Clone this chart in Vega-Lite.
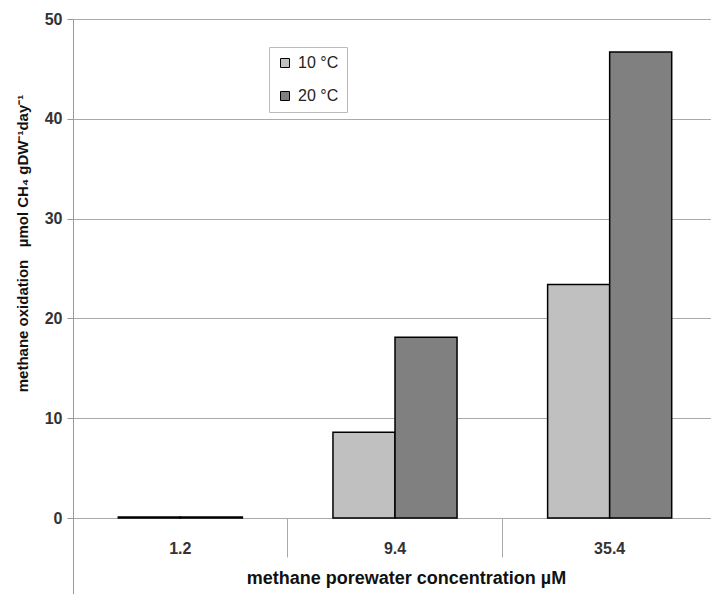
{
  "$schema": "https://vega.github.io/schema/vega-lite/v6.json",
  "autosize": "none",
  "padding": {"left": 73, "top": 19, "right": 0, "bottom": 0},
  "width": 638,
  "height": 575,
  "background": "white",
  "config": {
    "view": {"stroke": null},
    "font": "Liberation Sans"
  },
  "data": {
    "values": [
      {"conc": "1.2", "temp": "10 °C", "rate": 0.1},
      {"conc": "1.2", "temp": "20 °C", "rate": 0.1},
      {"conc": "9.4", "temp": "10 °C", "rate": 8.6},
      {"conc": "9.4", "temp": "20 °C", "rate": 18.1},
      {"conc": "35.4", "temp": "10 °C", "rate": 23.4},
      {"conc": "35.4", "temp": "20 °C", "rate": 46.7}
    ]
  },
  "mark": {"type": "bar", "stroke": "black", "strokeWidth": 1.5},
  "encoding": {
    "x": {
      "field": "conc",
      "type": "nominal",
      "sort": null,
      "scale": {"range": [0, 644], "paddingInner": 0, "paddingOuter": 0},
      "axis": {
        "title": "methane porewater concentration µM",
        "titleFont": "Liberation Sans",
        "titleFontWeight": "bold",
        "titleFontSize": 18,
        "titleColor": "#111",
        "titleX": 333,
        "titleY": 60,
        "titleBaseline": "middle",
        "offset": -76,
        "domain": false,
        "grid": false,
        "bandPosition": 0,
        "ticks": true,
        "tickColor": "#aaa",
        "tickSize": 39,
        "labelAngle": 0,
        "labelAlign": "center",
        "labelFont": "Liberation Sans",
        "labelFontWeight": "bold",
        "labelFontSize": 16,
        "labelColor": "#333",
        "labelPadding": -17
      }
    },
    "xOffset": {
      "field": "temp",
      "type": "nominal",
      "scale": {"paddingOuter": 0.73, "paddingInner": 0}
    },
    "y": {
      "field": "rate",
      "type": "quantitative",
      "scale": {"domain": [-7.615, 50], "nice": false, "zero": false},
      "axis": {
        "title": "methane oxidation\u00a0\u00a0\u00a0µmol CH₄ gDW⁻¹day⁻¹",
        "titleFont": "Liberation Sans",
        "titleFontWeight": "bold",
        "titleFontSize": 15,
        "titleColor": "#111",
        "titleAngle": -90,
        "titleAlign": "center",
        "titleBaseline": "middle",
        "titleX": -51,
        "titleY": 224,
        "values": [0, 10, 20, 30, 40, 50],
        "grid": true,
        "gridColor": "#aaa",
        "gridWidth": 1,
        "domainColor": "#999",
        "tickColor": "#999",
        "tickSize": 6,
        "labelFont": "Liberation Sans",
        "labelFontWeight": "bold",
        "labelFontSize": 16,
        "labelColor": "#333",
        "labelPadding": 5
      }
    },
    "fill": {
      "field": "temp",
      "type": "nominal",
      "scale": {"domain": ["10 °C", "20 °C"], "range": ["#c0c0c0", "#808080"]},
      "legend": {
        "title": null,
        "orient": "none",
        "legendX": 196,
        "legendY": 28,
        "padding": 8,
        "strokeColor": "#bbb",
        "fillColor": "white",
        "symbolType": "square",
        "symbolSize": 81,
        "symbolStrokeColor": "black",
        "symbolStrokeWidth": 1,
        "labelFont": "Liberation Sans",
        "labelFontSize": 16,
        "labelColor": "#222",
        "labelOffset": 5,
        "rowPadding": 17
      }
    }
  }
}
